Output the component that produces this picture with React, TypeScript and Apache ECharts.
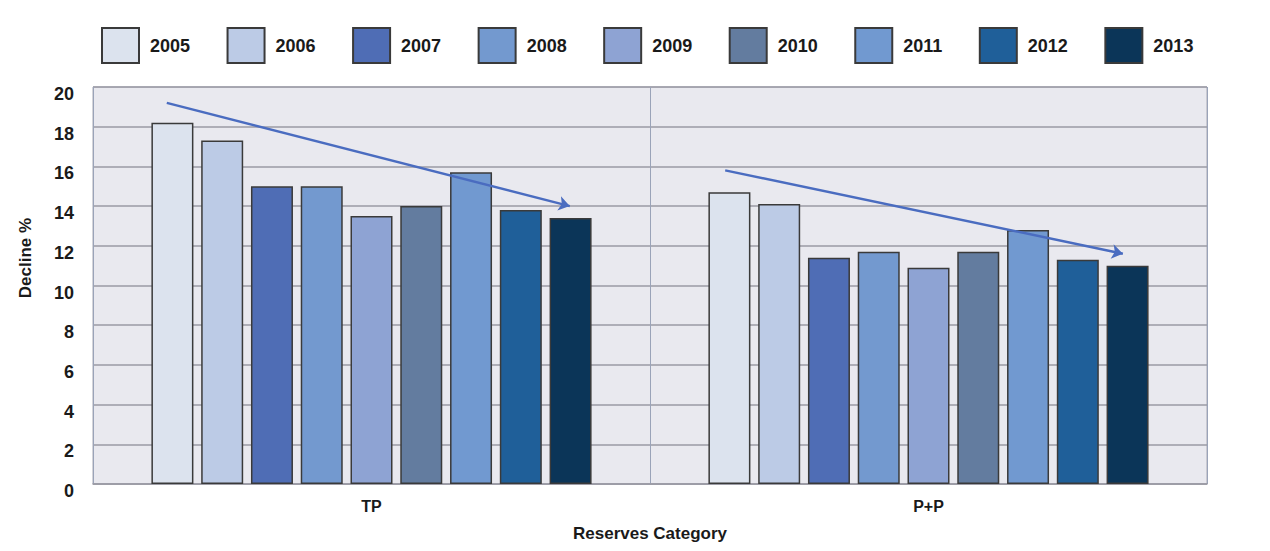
import React, { useEffect, useRef } from "react";
import * as echarts from "echarts";

const categories = ["TP", "P+P"];
const years = ["2005", "2006", "2007", "2008", "2009", "2010", "2011", "2012", "2013"];
const colors = ["#dce3ee", "#bccbe6", "#4f6db5", "#7399cf", "#8ea3d3", "#637c9f", "#7199d0", "#1f5f99", "#0b3558"];
const tpValues = [18.2, 17.3, 15.0, 15.0, 13.5, 14.0, 15.7, 13.8, 13.4];
const ppValues = [14.7, 14.1, 11.4, 11.7, 10.9, 11.7, 12.8, 11.3, 11.0];
const yTicks = [0, 20, 2];
// trend arrows: [xStart, yStart, xEnd, yEnd] on a 0..2 category-span scale
const tpArrow = [0.1325, 19.2, 0.856, 14.0];
const ppArrow = [1.135, 15.8, 1.849, 11.6];

const FONT = "'Liberation Sans', Arial, sans-serif";

export default function App() {
  const ref = useRef<HTMLDivElement>(null);
  useEffect(() => {
    const chart = echarts.init(ref.current!, undefined, { renderer: "svg" });
    const barSeries = years.map((y, i) => ({
      name: y,
      type: "bar",
      barWidth: 42,
      barGap: "18.5%",
      data: [tpValues[i], ppValues[i]],
      itemStyle: { color: colors[i], borderColor: "#3a3a3a", borderWidth: 1.5 },
    }));
    const arrows = [tpArrow, ppArrow].map((a) => ({
      coords: [[a[0], a[1]], [a[2], a[3]]],
    }));
    chart.setOption({
      animation: false,
      backgroundColor: "#ffffff",
      textStyle: { fontFamily: FONT },
      legend: {
        data: years,
        left: 101,
        top: 27,
        padding: 0,
        itemWidth: 37,
        itemHeight: 35,
        itemGap: 36.5,
        icon: "rect",
        textStyle: { fontSize: 18, fontWeight: "bold", color: "#1a1a1a", padding: [0, 0, 0, 6], fontFamily: FONT },
      },
      grid: {
        left: 93,
        right: 63,
        top: 87,
        bottom: 67,
        show: true,
        backgroundColor: "#e9e9ef",
        borderColor: "#a8a8b2",
        borderWidth: 1,
      },
      xAxis: [
        {
          type: "category",
          data: categories,
          axisTick: { show: false },
          axisLine: { lineStyle: { color: "#9a9aa4", width: 1.5 } },
          splitLine: { show: true, lineStyle: { color: "#9aa3b8", width: 1 } },
          axisLabel: { color: "#1a1a1a", fontWeight: "bold", fontSize: 16, margin: 14, fontFamily: FONT },
        },
        { type: "value", min: 0, max: 2, show: false },
      ],
      yAxis: {
        type: "value",
        min: yTicks[0],
        max: yTicks[1],
        interval: yTicks[2],
        axisLine: { show: false },
        axisTick: { show: false },
        splitLine: { lineStyle: { color: "#9a9aa4", width: 1.5 } },
        axisLabel: {
          color: "#1a1a1a",
          fontWeight: "bold",
          fontSize: 18,
          margin: 19,
          verticalAlign: "top",
          lineHeight: 14,
          fontFamily: FONT,
        },
      },
      graphic: [
        {
          type: "text",
          x: 25,
          y: 258,
          rotation: Math.PI / 2,
          style: { text: "Decline %", fontSize: 17, fontWeight: "bold", fill: "#1a1a1a", align: "center", verticalAlign: "middle", fontFamily: FONT },
        },
        {
          type: "text",
          x: 650,
          y: 533,
          style: { text: "Reserves Category", fontSize: 17, fontWeight: "bold", fill: "#1a1a1a", align: "center", verticalAlign: "middle", fontFamily: FONT },
        },
      ],
      series: [
        ...barSeries,
        {
          type: "lines",
          coordinateSystem: "cartesian2d",
          xAxisIndex: 1,
          yAxisIndex: 0,
          symbol: ["none", "arrow"],
          symbolSize: 11,
          lineStyle: { color: "#4a6cc0", width: 2.5, opacity: 1 },
          data: arrows,
          z: 5,
        },
      ],
    });
    return () => chart.dispose();
  }, []);
  return <div ref={ref} style={{ position: "absolute", left: 0, top: 0, width: 1270, height: 551 }} />;
}
